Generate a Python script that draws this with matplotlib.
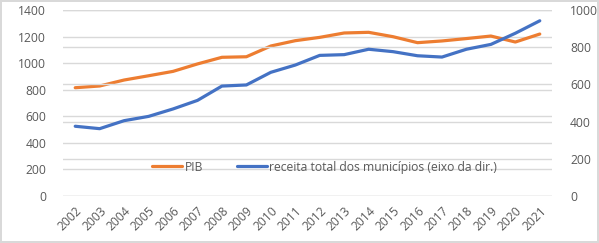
import matplotlib
matplotlib.use("Agg")
import matplotlib.pyplot as plt

years = [str(y) for y in range(2002, 2022)]
pib = [815, 828, 873, 905, 938, 994, 1044, 1048, 1129, 1169, 1194, 1227, 1232, 1199, 1154, 1167, 1185, 1204, 1159, 1219]
receita = [375, 362, 405, 428, 468, 514, 591, 597, 665, 704, 756, 760, 789, 776, 754, 747, 789, 815, 875, 942]

plt.rcParams['font.family'] = ['Open Sans', 'DejaVu Sans']
tc = '#595959'
grid_c = '#d9d9d9'

fig = plt.figure(figsize=(5.99, 2.43), dpi=100)
fig.patch.set_edgecolor(grid_c)
fig.patch.set_linewidth(1.5)
ax = fig.add_axes([63/599, 47/243, (552-63)/599, (196-10)/243])
ax2 = ax.twinx()

x = list(range(len(years)))
l1, = ax.plot(x, pib, color='#ED7D31', lw=2.3, solid_capstyle='round', label='PIB')
l2, = ax2.plot(x, receita, color='#4472C4', lw=2.3, solid_capstyle='round',
               label='receita total dos municípios (eixo da dir.)')

ax.set_ylim(0, 1400)
ax.set_yticks(range(0, 1401, 200))
ax2.set_ylim(0, 1000)
ax2.set_yticks(range(0, 1001, 200))
ax.set_xlim(-0.5, len(years) - 0.5)
ax.set_xticks(x)
ax.set_xticklabels(years, rotation=45, ha='right', rotation_mode='anchor')

for a in (ax, ax2):
    for s in a.spines.values():
        s.set_visible(False)
    a.tick_params(length=0, colors=tc, labelsize=8.7)
ax.tick_params(axis='y', pad=12)
ax2.tick_params(axis='y', pad=13)
ax.tick_params(axis='x', pad=6)

ax.grid(axis='y', color=grid_c, lw=1)
ax2.grid(axis='y', color=grid_c, lw=1)
ax.set_axisbelow(True)
ax2.set_axisbelow(True)

leg = ax2.legend(handles=[l1, l2], loc='center', bbox_to_anchor=(0.535, 0.155), ncol=2,
                 frameon=False, fontsize=8.7, handlelength=2.5, columnspacing=2.8,
                 handletextpad=0.2, labelcolor=tc)

fig.savefig('out.png', dpi=100)
